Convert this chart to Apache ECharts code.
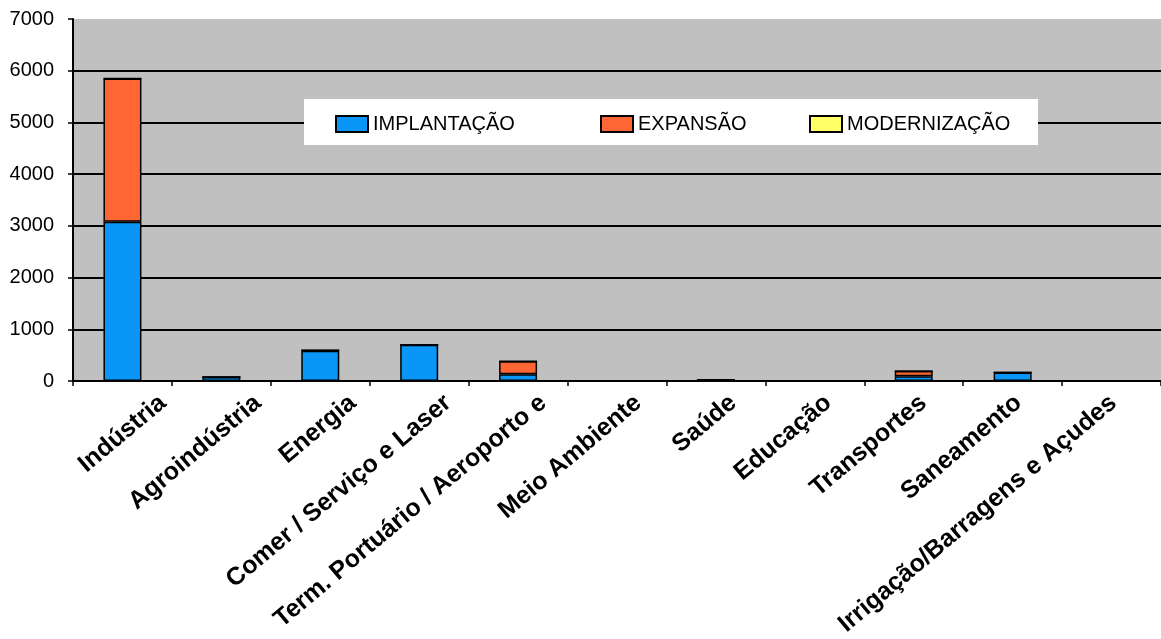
<!DOCTYPE html>
<html>
<head>
<meta charset="utf-8">
<script src="https://cdn.jsdelivr.net/npm/echarts@6/dist/echarts.min.js"></script>
<style>
html,body{margin:0;padding:0;background:#fff;}
#chart{width:1161px;height:639px;}
</style>
</head>
<body>
<div id="chart"></div>
<script>
const categories = ['Indústria','Agroindústria','Energia','Comer / Serviço e Laser','Term. Portuário / Aeroporto e','Meio Ambiente','Saúde','Educação','Transportes','Saneamento','Irrigação/Barragens e Açudes'];
const implantacao = [3080, 75, 585, 700, 130, 0, 25, 0, 90, 165, 0];
const expansao = [2770, 0, 10, 0, 250, 0, 0, 0, 105, 0, 0];
const modernizacao = [0, 0, 0, 0, 0, 0, 0, 0, 0, 0, 0];
const seriesNames = ['IMPLANTAÇÃO', 'EXPANSÃO', 'MODERNIZAÇÃO'];
const yMin = 0, yMax = 7000, yStep = 1000;

const FONT = 'Liberation Sans, Arial, sans-serif';
const colors = ['#0a96f7', '#ff6633', '#ffff66'];
const seriesData = [implantacao, expansao, modernizacao];

// plot area
const GL = 73, GR = 0, GT = 19, GB = 258, W = 1161;
// the category labels in the original sit on a slightly tighter pitch than the bars,
// so they are drawn by a second (label-only) category axis
const LBL_FIRST = 163, LBL_PITCH = 95.2, LBL_Y = 406;
const labelGridLeft = LBL_FIRST - LBL_PITCH / 2;
const labelGridRight = W - labelGridLeft - LBL_PITCH * categories.length;

const chart = echarts.init(document.getElementById('chart'));
const legendLefts = [335, 600, 809];

chart.setOption({
  animation: false,
  textStyle: { fontFamily: FONT },
  grid: [
    { left: GL, right: GR, top: GT, bottom: GB, show: true, backgroundColor: '#c0c0c0', borderWidth: 0 },
    { left: labelGridLeft, right: labelGridRight, top: GT, bottom: GB, show: false }
  ],
  graphic: [{
    type: 'rect', z: 3,
    shape: { x: 304, y: 99, width: 734, height: 46 },
    style: { fill: '#ffffff' }
  }],
  legend: seriesNames.map((n, i) => ({
    data: [n], left: legendLefts[i], top: 114, padding: 0, z: 5,
    icon: 'rect', itemWidth: 32, itemHeight: 16, itemGap: 0,
    textStyle: { fontSize: 20, color: '#000', fontFamily: FONT }
  })),
  xAxis: [{
    type: 'category', data: categories, gridIndex: 0,
    axisLine: { lineStyle: { color: '#000', width: 2 } },
    axisTick: { show: true, interval: 0, length: 5, lineStyle: { color: '#000', width: 1.5 } },
    axisLabel: { show: false, interval: 0 },
    splitLine: { show: false }
  }, {
    type: 'category', data: categories, gridIndex: 1,
    axisLine: { show: false }, axisTick: { show: false }, splitLine: { show: false },
    axisLabel: {
      interval: 0, rotate: 40, fontSize: 25, fontWeight: 'bold', color: '#000',
      fontFamily: FONT, margin: LBL_Y - (639 - GB)
    }
  }],
  yAxis: [{
    type: 'value', min: yMin, max: yMax, interval: yStep, gridIndex: 0,
    axisLine: { show: true, lineStyle: { color: '#000', width: 2 } },
    axisTick: { show: true, length: 5, lineStyle: { color: '#000', width: 1.5 } },
    axisLabel: { fontSize: 20, color: '#000', margin: 19, fontFamily: FONT, formatter: v => String(v) },
    splitLine: { show: true, lineStyle: { color: ['#000','#000','#000','#000','#000','#000','#000','rgba(0,0,0,0)'], width: 2 } }
  }, {
    type: 'value', min: yMin, max: yMax, interval: yStep, gridIndex: 1, show: false
  }],
  series: seriesNames.map((n, i) => ({
    name: n, type: 'bar', stack: 'total', barWidth: 38,
    xAxisIndex: 0, yAxisIndex: 0,
    data: seriesData[i],
    itemStyle: { color: colors[i], borderColor: '#000', borderWidth: 1.5 }
  }))
});
</script>
</body>
</html>
